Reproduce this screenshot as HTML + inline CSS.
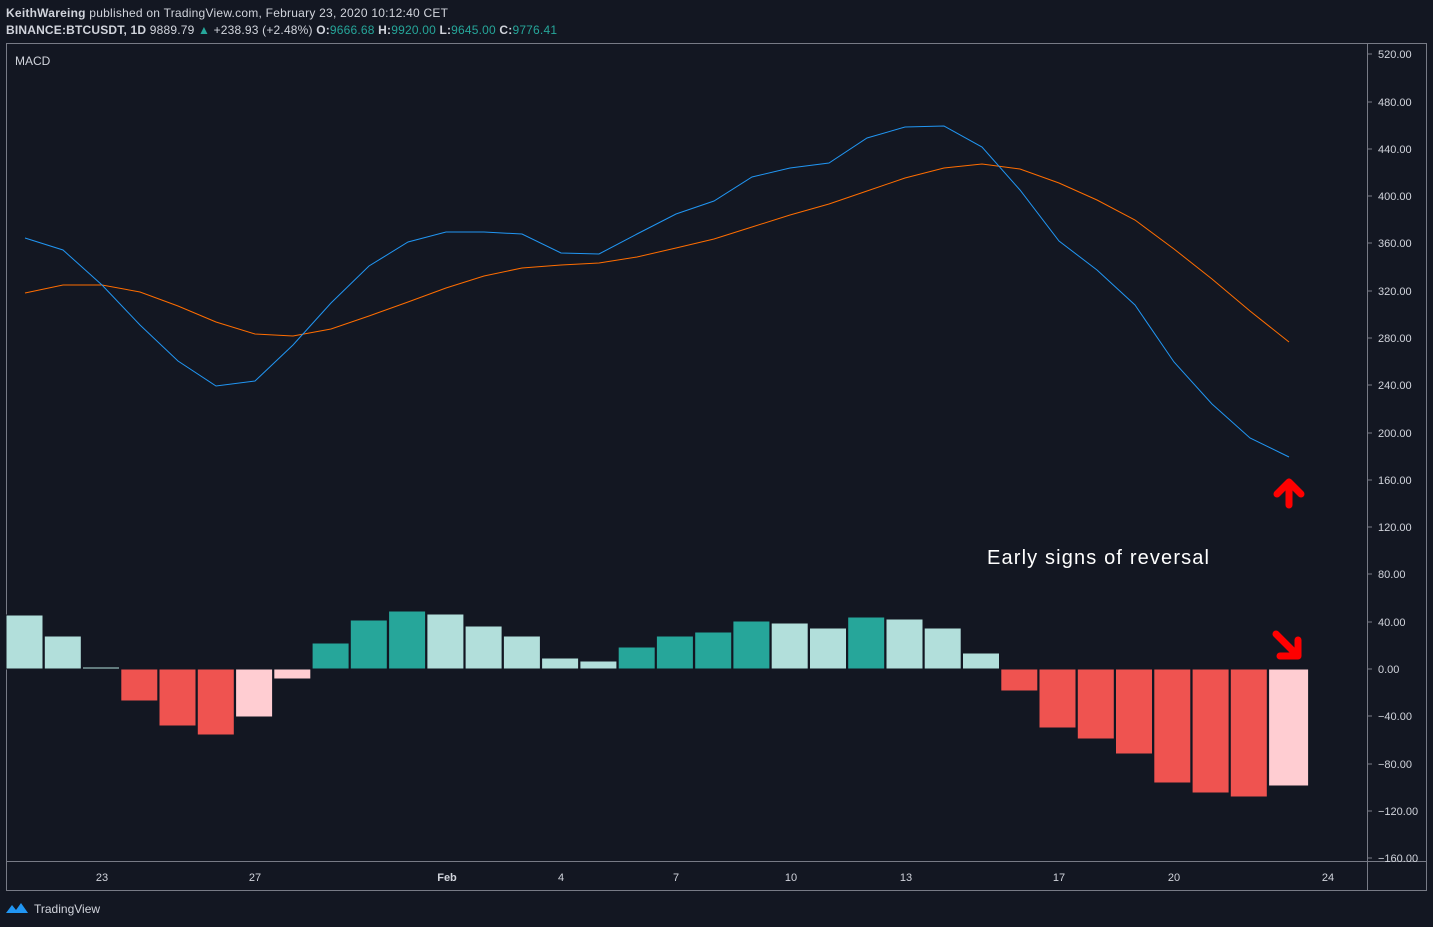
<!DOCTYPE html>
<html><head><meta charset="utf-8"><style>
html,body{margin:0;padding:0;background:#131722;width:1433px;height:927px;overflow:hidden;font-family:"Liberation Sans",sans-serif;}
</style></head><body>
<svg width="1433" height="927" xmlns="http://www.w3.org/2000/svg" font-family="Liberation Sans, sans-serif">
<rect width="1433" height="927" fill="#131722"/>
<text x="6" y="17" font-size="12" fill="#d1d4dc" textLength="442"><tspan font-weight="bold">KeithWareing</tspan> published on TradingView.com, February 23, 2020 10:12:40 CET</text>
<text x="6" y="34" font-size="12" fill="#d1d4dc" textLength="551"><tspan font-weight="bold">BINANCE:BTCUSDT, 1D</tspan> 9889.79 <tspan fill="#26a69a">▲</tspan> +238.93 (+2.48%) <tspan font-weight="bold">O:</tspan><tspan fill="#26a69a">9666.68</tspan> <tspan font-weight="bold">H:</tspan><tspan fill="#26a69a">9920.00</tspan> <tspan font-weight="bold">L:</tspan><tspan fill="#26a69a">9645.00</tspan> <tspan font-weight="bold">C:</tspan><tspan fill="#26a69a">9776.41</tspan></text>
<rect x="6.5" y="43.5" width="1420" height="847" fill="none" stroke="#787b86" stroke-width="1"/>
<line x1="1367.5" y1="44" x2="1367.5" y2="890" stroke="#787b86"/>
<line x1="7" y1="861.5" x2="1426" y2="861.5" stroke="#787b86"/>
<text x="15" y="65" font-size="12" fill="#d1d4dc">MACD</text>
<g font-size="11" fill="#d1d4dc">
<text x="1378" y="58">520.00</text><text x="1378" y="106">480.00</text><text x="1378" y="153">440.00</text><text x="1378" y="200">400.00</text><text x="1378" y="247">360.00</text><text x="1378" y="295">320.00</text><text x="1378" y="342">280.00</text><text x="1378" y="389">240.00</text><text x="1378" y="437">200.00</text><text x="1378" y="484">160.00</text><text x="1378" y="531">120.00</text><text x="1378" y="578">80.00</text><text x="1378" y="626">40.00</text><text x="1378" y="673">0.00</text><text x="1378" y="720">−40.00</text><text x="1378" y="768">−80.00</text><text x="1378" y="815">−120.00</text><text x="1378" y="862">−160.00</text>
</g>
<g stroke="#787b86"><line x1="1367" y1="54" x2="1372" y2="54"/><line x1="1367" y1="102" x2="1372" y2="102"/><line x1="1367" y1="149" x2="1372" y2="149"/><line x1="1367" y1="196" x2="1372" y2="196"/><line x1="1367" y1="243" x2="1372" y2="243"/><line x1="1367" y1="291" x2="1372" y2="291"/><line x1="1367" y1="338" x2="1372" y2="338"/><line x1="1367" y1="385" x2="1372" y2="385"/><line x1="1367" y1="433" x2="1372" y2="433"/><line x1="1367" y1="480" x2="1372" y2="480"/><line x1="1367" y1="527" x2="1372" y2="527"/><line x1="1367" y1="574" x2="1372" y2="574"/><line x1="1367" y1="622" x2="1372" y2="622"/><line x1="1367" y1="669" x2="1372" y2="669"/><line x1="1367" y1="716" x2="1372" y2="716"/><line x1="1367" y1="764" x2="1372" y2="764"/><line x1="1367" y1="811" x2="1372" y2="811"/><line x1="1367" y1="858" x2="1372" y2="858"/></g>
<g font-size="11" fill="#d1d4dc" text-anchor="middle">
<text x="102" y="881">23</text><text x="255" y="881">27</text><text x="447" y="881" font-weight="bold">Feb</text><text x="561" y="881">4</text><text x="676" y="881">7</text><text x="791" y="881">10</text><text x="906" y="881">13</text><text x="1059" y="881">17</text><text x="1174" y="881">20</text><text x="1328" y="881">24</text>
</g>
<g stroke="#131722" stroke-width="1">
<rect x="6" y="615" width="37" height="54" fill="#b2dfdb"/>
<rect x="44.3" y="636" width="37" height="33" fill="#b2dfdb"/>
<rect x="82.5" y="667" width="37" height="2" fill="#b2dfdb"/>
<rect x="120.8" y="669" width="37" height="32" fill="#ef5350"/>
<rect x="159" y="669" width="37" height="57" fill="#ef5350"/>
<rect x="197.3" y="669" width="37" height="66" fill="#ef5350"/>
<rect x="235.6" y="669" width="37" height="48" fill="#ffcdd2"/>
<rect x="273.8" y="669" width="37" height="10" fill="#ffcdd2"/>
<rect x="312.1" y="643" width="37" height="26" fill="#26a69a"/>
<rect x="350.3" y="620" width="37" height="49" fill="#26a69a"/>
<rect x="388.6" y="611" width="37" height="58" fill="#26a69a"/>
<rect x="426.9" y="614" width="37" height="55" fill="#b2dfdb"/>
<rect x="465.1" y="626" width="37" height="43" fill="#b2dfdb"/>
<rect x="503.4" y="636" width="37" height="33" fill="#b2dfdb"/>
<rect x="541.6" y="658" width="37" height="11" fill="#b2dfdb"/>
<rect x="579.9" y="661" width="37" height="8" fill="#b2dfdb"/>
<rect x="618.2" y="647" width="37" height="22" fill="#26a69a"/>
<rect x="656.4" y="636" width="37" height="33" fill="#26a69a"/>
<rect x="694.7" y="632" width="37" height="37" fill="#26a69a"/>
<rect x="732.9" y="621" width="37" height="48" fill="#26a69a"/>
<rect x="771.2" y="623" width="37" height="46" fill="#b2dfdb"/>
<rect x="809.5" y="628" width="37" height="41" fill="#b2dfdb"/>
<rect x="847.7" y="617" width="37" height="52" fill="#26a69a"/>
<rect x="886" y="619" width="37" height="50" fill="#b2dfdb"/>
<rect x="924.2" y="628" width="37" height="41" fill="#b2dfdb"/>
<rect x="962.5" y="653" width="37" height="16" fill="#b2dfdb"/>
<rect x="1000.8" y="669" width="37" height="22" fill="#ef5350"/>
<rect x="1039" y="669" width="37" height="59" fill="#ef5350"/>
<rect x="1077.3" y="669" width="37" height="70" fill="#ef5350"/>
<rect x="1115.5" y="669" width="37" height="85" fill="#ef5350"/>
<rect x="1153.8" y="669" width="37" height="114" fill="#ef5350"/>
<rect x="1192.1" y="669" width="37" height="124" fill="#ef5350"/>
<rect x="1230.3" y="669" width="37" height="128" fill="#ef5350"/>
<rect x="1268.6" y="669" width="40" height="117" fill="#ffcdd2"/>
</g>
<polyline fill="none" stroke="#ff6d00" stroke-width="1" points="25,293 63,285 102,285 140,292 178,306 216,322 255,334 293,336 331,329 369,316 408,302 446,288 484,276 522,268 561,265 599,263 637,257 676,248 714,239 752,227 790,215 829,204 867,191 905,178 944,168 982,164 1020,169 1059,183 1097,200 1135,220 1174,249 1212,279 1250,311 1289,342"/>
<polyline fill="none" stroke="#2196f3" stroke-width="1" points="25,238 63,250 102,285 140,325 178,361 216,386 255,381 293,345 331,303 369,266 408,242 446,232 484,232 522,234 561,253 599,254 637,234 676,214 714,201 752,177 790,168 829,163 867,138 905,127 944,126 982,147 1020,190 1059,241 1097,270 1135,305 1174,362 1212,404 1250,438 1289,457"/>
<text x="987" y="564" font-size="20" fill="#ffffff" textLength="222">Early signs of reversal</text>
<g fill="none" stroke="#ff0000" stroke-width="7" stroke-linecap="round" stroke-linejoin="round">
<path d="M1289,505 L1289,482 M1277,494 L1289,482 L1301,494"/>
<path d="M1276,634 L1298,656 M1298,640 L1298,656 L1280,656"/>
</g>
<g transform="translate(6,901)"><path d="M0,12 L6,4 L10,9 L15,2 L22,12 Z" fill="#2196f3"/></g>
<text x="34" y="913" font-size="12" fill="#d1d4dc">TradingView</text>
</svg>
</body></html>
